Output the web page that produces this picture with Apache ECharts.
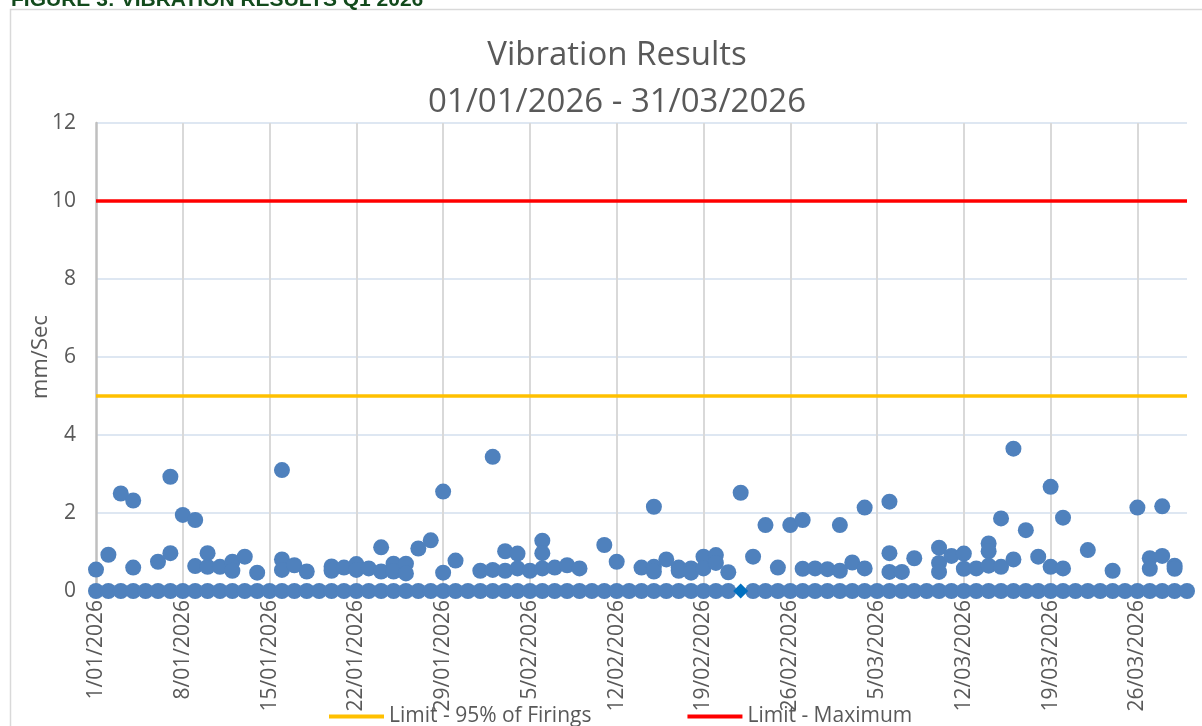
<!DOCTYPE html>
<html><head><meta charset="utf-8">
<script src="https://cdn.jsdelivr.net/npm/echarts@6/dist/echarts.min.js"></script>
<style>html,body{margin:0;padding:0;background:#fff;overflow:hidden}#c{width:1202px;height:726px}</style>
</head><body><div id="c"></div>
<script>
// ---------------- data ----------------
const figureCaption = 'FIGURE 3: VIBRATION RESULTS Q1 2026';
const chartTitle = 'Vibration Results';
const chartSubtitle = '01/01/2026 - 31/03/2026';
const yAxisName = 'mm/Sec';
const startDate = '2026-01-01';
const endDate = '2026-03-30';
const yMin = 0, yMax = 12, yStep = 2;
const tickStepDays = 7;
const tickLabels = ['1/01/2026','8/01/2026','15/01/2026','22/01/2026','29/01/2026','5/02/2026','12/02/2026','19/02/2026','26/02/2026','5/03/2026','12/03/2026','19/03/2026','26/03/2026'];
const limitNames = ['Limit - 95% of Firings', 'Limit - Maximum'];
const limitValues = [5, 10];

// daily zero readings
const zeroDates = [
'2026-01-01','2026-01-02','2026-01-03','2026-01-04','2026-01-05','2026-01-06','2026-01-07','2026-01-08','2026-01-09','2026-01-10',
'2026-01-11','2026-01-12','2026-01-13','2026-01-14','2026-01-15','2026-01-16','2026-01-17','2026-01-18','2026-01-19','2026-01-20',
'2026-01-21','2026-01-22','2026-01-23','2026-01-24','2026-01-25','2026-01-26','2026-01-27','2026-01-28','2026-01-29','2026-01-30',
'2026-01-31','2026-02-01','2026-02-02','2026-02-03','2026-02-04','2026-02-05','2026-02-06','2026-02-07','2026-02-08','2026-02-09',
'2026-02-10','2026-02-11','2026-02-12','2026-02-13','2026-02-14','2026-02-15','2026-02-16','2026-02-17','2026-02-18','2026-02-19',
'2026-02-20','2026-02-21','2026-02-23','2026-02-24','2026-02-25','2026-02-26','2026-02-27','2026-02-28','2026-03-01',
'2026-03-02','2026-03-03','2026-03-04','2026-03-05','2026-03-06','2026-03-07','2026-03-08','2026-03-09','2026-03-10','2026-03-11',
'2026-03-12','2026-03-13','2026-03-14','2026-03-15','2026-03-16','2026-03-17','2026-03-18','2026-03-19','2026-03-20','2026-03-21',
'2026-03-22','2026-03-23','2026-03-24','2026-03-25','2026-03-26','2026-03-27','2026-03-28','2026-03-29','2026-03-30'];
const zeroValues = zeroDates.map(() => 0);

// highlighted reading (diamond marker)
const flaggedDates = ['2026-02-22'];
const flaggedValues = [0];

// non-zero readings
const readingDates = [
'2026-01-01','2026-01-02','2026-01-03','2026-01-04','2026-01-04','2026-01-06','2026-01-07','2026-01-07','2026-01-08','2026-01-09',
'2026-01-09','2026-01-10','2026-01-10','2026-01-11','2026-01-12','2026-01-12','2026-01-13','2026-01-14','2026-01-16','2026-01-16',
'2026-01-16','2026-01-17','2026-01-18','2026-01-20','2026-01-20','2026-01-21','2026-01-22','2026-01-22','2026-01-23','2026-01-24',
'2026-01-24','2026-01-25','2026-01-25','2026-01-26','2026-01-26','2026-01-27','2026-01-28','2026-01-29','2026-01-29','2026-01-30',
'2026-02-01','2026-02-02','2026-02-02','2026-02-03','2026-02-03','2026-02-04','2026-02-04','2026-02-05','2026-02-06','2026-02-06',
'2026-02-06','2026-02-07','2026-02-08','2026-02-09','2026-02-11','2026-02-12','2026-02-14','2026-02-15','2026-02-15','2026-02-15',
'2026-02-16','2026-02-17','2026-02-17','2026-02-18','2026-02-18','2026-02-19','2026-02-19','2026-02-20','2026-02-20','2026-02-21',
'2026-02-22','2026-02-23','2026-02-24','2026-02-25','2026-02-26','2026-02-27','2026-02-27','2026-02-28','2026-03-01','2026-03-02',
'2026-03-02','2026-03-03','2026-03-04','2026-03-04','2026-03-06','2026-03-06','2026-03-06','2026-03-07','2026-03-08','2026-03-10',
'2026-03-10','2026-03-10','2026-03-11','2026-03-12','2026-03-12','2026-03-13','2026-03-14','2026-03-14','2026-03-14','2026-03-15',
'2026-03-15','2026-03-16','2026-03-16','2026-03-17','2026-03-18','2026-03-19','2026-03-19','2026-03-20','2026-03-20','2026-03-22',
'2026-03-24','2026-03-26','2026-03-27','2026-03-27','2026-03-28','2026-03-28','2026-03-29','2026-03-29'];
const readingValues = [
0.55,0.93,2.50,2.32,0.60,0.75,2.93,0.97,1.95,1.82,
0.64,0.97,0.62,0.62,0.75,0.52,0.88,0.47,3.10,0.81,
0.54,0.66,0.50,0.63,0.52,0.60,0.69,0.54,0.58,1.12,
0.50,0.70,0.50,0.70,0.45,1.09,1.30,2.55,0.47,0.78,
0.52,3.44,0.54,1.02,0.52,0.96,0.58,0.52,1.29,0.97,
0.58,0.60,0.66,0.58,1.18,0.75,0.60,2.16,0.62,0.50,
0.81,0.60,0.52,0.58,0.47,0.88,0.58,0.92,0.72,0.48,
2.52,0.88,1.69,0.60,1.69,1.82,0.57,0.58,0.56,1.69,
0.52,0.73,2.14,0.58,2.29,0.97,0.49,0.49,0.84,1.11,
0.72,0.49,0.90,0.96,0.57,0.58,1.22,1.02,0.65,1.86,
0.62,3.65,0.81,1.56,0.88,2.67,0.62,1.88,0.58,1.05,
0.52,2.14,0.84,0.57,2.17,0.90,0.65,0.57];

// ---------------- helpers ----------------
const DAY = 86400000;
function dayIndex(s){ const p = s.split('-').map(Number); const q = startDate.split('-').map(Number);
  return (Date.UTC(p[0],p[1]-1,p[2]) - Date.UTC(q[0],q[1]-1,q[2])) / DAY; }
const xMax = dayIndex(endDate);
const pairs = (ds, vs) => ds.map((d,i) => [dayIndex(d), vs[i]]);
const tickDays = tickLabels.map((_, i) => i * tickStepDays);

const FONT = 'Open Sans';
const GREY = '#595959';
const DOT = '#4F81BD';

const chart = echarts.init(document.getElementById('c'), null, {renderer:'canvas'});
chart.setOption({
  animation: false,
  backgroundColor: '#fff',
  textStyle: { fontFamily: FONT },
  graphic: [
    { type:'rect', z: -10, shape:{x:10.5, y:9.5, width:1300, height:800}, style:{fill:'none', stroke:'#D9D9D9', lineWidth:1.5} },
    { type:'text', x: 11, y: -10.5, style:{ text: figureCaption, fill:'#124A1C', font:'bold 21px "Liberation Sans", Arial', verticalAlign:'top' } }
  ],
  title: {
    text: chartTitle + '\n' + chartSubtitle,
    left: 612, textAlign: 'center', top: 27,
    textStyle: { fontFamily: FONT, fontSize: 33, fontWeight: 'normal', color: GREY, lineHeight: 47 }
  },
  legend: {
    left: 329, top: 706, padding: 0, itemWidth: 55, itemHeight: 4, itemGap: 96,
    data: limitNames.map(n => ({ name: n, icon: 'rect' })),
    textStyle: { fontFamily: FONT, fontSize: 21, color: GREY }
  },
  grid: { left: 96, right: 15, top: 123, bottom: 135 },
  xAxis: {
    type: 'value', min: 0, max: xMax, interval: tickStepDays,
    axisLine: { show: true, lineStyle: { color: '#D9D9D9', width: 1 } },
    axisTick: { show: false },
    splitLine: { show: false },
    axisLabel: {
      rotate: 90, margin: 9, color: GREY, fontFamily: FONT, fontSize: 21,
      formatter: v => (v % tickStepDays === 0 && tickLabels[v / tickStepDays]) ? tickLabels[v / tickStepDays] : ''
    }
  },
  yAxis: {
    type: 'value', min: yMin, max: yMax, interval: yStep,
    name: yAxisName, nameLocation: 'middle', nameGap: 44, nameRotate: 90, nameMoveOverlap: false,
    nameTextStyle: { color: GREY, fontFamily: FONT, fontSize: 22 },
    axisLine: { show: true, lineStyle: { color: '#BFBFBF', width: 2.5 } },
    axisTick: { show: false },
    splitLine: { show: true, lineStyle: { color: '#D3DFEE', width: 1.5 } },
    axisLabel: { color: GREY, fontFamily: FONT, fontSize: 21, margin: 20 }
  },
  series: [
    { name: limitNames[0], type: 'line', symbol: 'none', silent: true,
      data: [[0, limitValues[0]], [xMax, limitValues[0]]],
      itemStyle: { color: '#FFC000' }, lineStyle: { color: '#FFC000', width: 3.5 },
      markLine: { silent: true, symbol: 'none', z: 1, label: { show: false },
        lineStyle: { color: '#D9D9D9', width: 2, type: 'solid' },
        data: tickDays.slice(1).map(d => ({ xAxis: d })) } },
    { name: limitNames[1], type: 'line', symbol: 'none', silent: true,
      data: [[0, limitValues[1]], [xMax, limitValues[1]]],
      itemStyle: { color: '#FF0000' }, lineStyle: { color: '#FF0000', width: 3.5 } },
    { name: 'Zero', type: 'scatter', symbol: 'circle', symbolSize: 16, z: 3,
      data: pairs(zeroDates, zeroValues), itemStyle: { color: DOT, opacity: 1 } },
    { name: 'Readings', type: 'scatter', symbol: 'circle', symbolSize: 16, z: 3,
      data: pairs(readingDates, readingValues), itemStyle: { color: DOT, opacity: 1 } },
    { name: 'Flagged', type: 'scatter', symbol: 'diamond', symbolSize: 15, z: 4,
      data: pairs(flaggedDates, flaggedValues), itemStyle: { color: '#0070C0', opacity: 1 } }
  ]
});
</script></body></html>
